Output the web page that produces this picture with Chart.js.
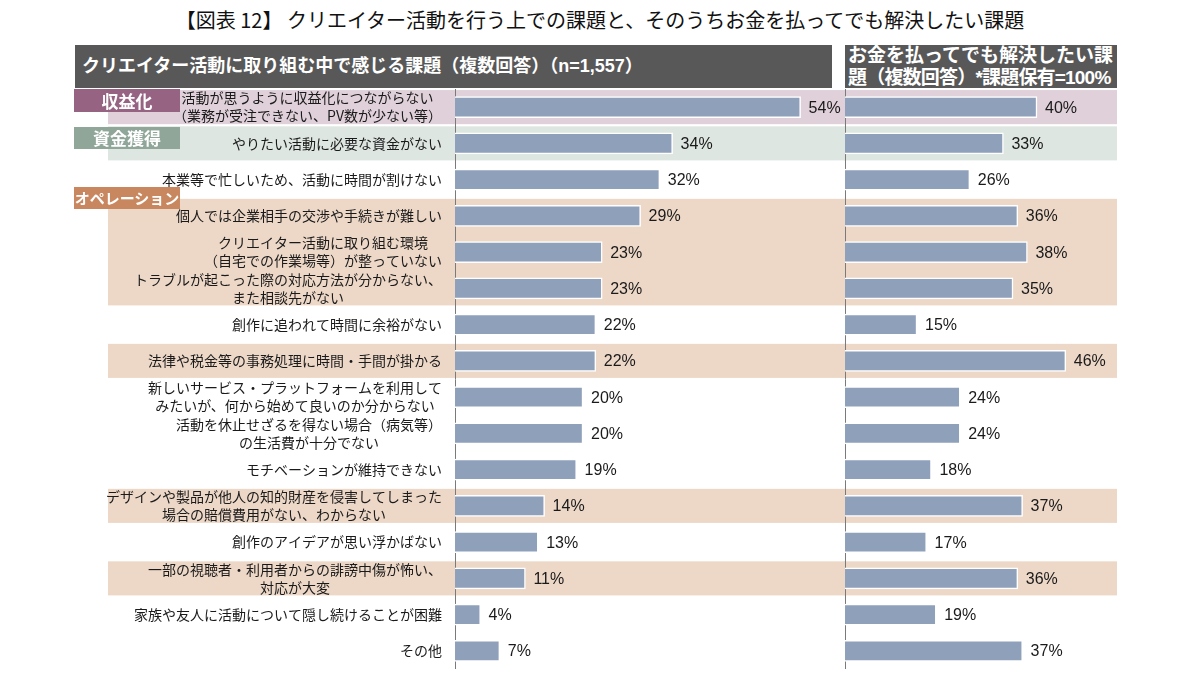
<!DOCTYPE html>
<html lang="ja">
<head>
<meta charset="utf-8">
<script src="https://cdn.jsdelivr.net/npm/chart.js@4.4.1/dist/chart.umd.min.js"></script>
<style>
  body { margin: 0; width: 1200px; height: 675px; background: #fff; position: relative; overflow: hidden;
         font-family: "Liberation Sans", "Noto Sans CJK JP", sans-serif; }
  .abs { position: absolute; }
  #title { left: 0; width: 1200px; top: 5px; text-align: center; font-size: 20px; color: #111;
           font-family: "Noto Sans CJK JP", sans-serif; }
  .head { background: #585858; color: #fff; font-weight: bold; top: 45px; height: 43px; }
  #headL { left: 75px; width: 757px; font-size: 18px; line-height: 43px; padding-left: 7px; box-sizing: border-box; }
  #headR { left: 845px; width: 272px; font-size: 19px; line-height: 22px; padding-left: 3px; box-sizing: border-box; white-space: nowrap; }
  #headR span { letter-spacing: -0.8px; }
  .tag { left: 74px; width: 106px; color: #fff; font-weight: bold; text-align: center;
         font-family: "Noto Sans CJK JP", sans-serif; }
  canvas { position: absolute; }
</style>
</head>
<body>
<div id="title" class="abs">【図表 12】 クリエイター活動を行う上での課題と、そのうちお金を払ってでも解決したい課題</div>
<div id="headL" class="abs head">クリエイター活動に取り組む中で感じる課題（複数回答）（n=1,557）</div>
<div id="headR" class="abs head">お金を払ってでも解決したい課<br><span>題（複数回答）*課題保有=100%</span></div>

<canvas id="left" width="845" height="580" style="left:0;top:89px"></canvas>
<canvas id="right" width="273" height="580" style="left:844px;top:89px"></canvas>

<div class="abs tag" style="top:89px;height:23px;line-height:23px;background:#966482;font-size:17px">収益化</div>
<div class="abs tag" style="top:127px;height:22px;line-height:22px;background:#8fa698;font-size:17px">資金獲得</div>
<div class="abs tag" style="top:187px;height:22px;line-height:22px;background:#c8875f;font-size:15px">オペレーション</div>

<script>
const categories = [
  ['活動が思うように収益化につながらない', '（業務が受注できない、PV数が少ない等）'],
  ['やりたい活動に必要な資金がない'],
  ['本業等で忙しいため、活動に時間が割けない'],
  ['個人では企業相手の交渉や手続きが難しい'],
  ['クリエイター活動に取り組む環境', '（自宅での作業場等）が整っていない'],
  ['トラブルが起こった際の対応方法が分からない、', 'また相談先がない'],
  ['創作に追われて時間に余裕がない'],
  ['法律や税金等の事務処理に時間・手間が掛かる'],
  ['新しいサービス・プラットフォームを利用して', 'みたいが、何から始めて良いのか分からない'],
  ['活動を休止せざるを得ない場合（病気等）', 'の生活費が十分でない'],
  ['モチベーションが維持できない'],
  ['デザインや製品が他人の知的財産を侵害してしまった', '場合の賠償費用がない、わからない'],
  ['創作のアイデアが思い浮かばない'],
  ['一部の視聴者・利用者からの誹謗中傷が怖い、', '対応が大変'],
  ['家族や友人に活動について隠し続けることが困難'],
  ['その他']
];
const feltIssues = [54, 34, 32, 29, 23, 23, 22, 22, 20, 20, 19, 14, 13, 11, 4, 7];
const payToSolve = [40, 33, 26, 36, 38, 35, 15, 46, 24, 24, 18, 37, 17, 36, 19, 37];
// which group band each row sits on
const rowGroups = ['revenue', 'funding', null, 'ops', 'ops', 'ops', null, 'ops',
                   null, null, null, 'ops', null, 'ops', null, null];

const bandColors = { revenue: '#dfd0d9', funding: '#dee6e1', ops: '#edd8c8' };
const barColor = '#8fa1ba';

// row background bands, merged when neighbours share a group
function bandPlugin(x0) {
  return {
    id: 'bands',
    beforeDraw(chart) {
      const ctx = chart.ctx, y = chart.scales.y;
      const step = y.getPixelForValue(1) - y.getPixelForValue(0);
      const half = step * 0.47;
      let i = 0;
      while (i < rowGroups.length) {
        const g = rowGroups[i];
        let j = i;
        while (g && j + 1 < rowGroups.length && rowGroups[j + 1] === g) j++;
        if (g) {
          const top = y.getPixelForValue(i) - half;
          const bottom = y.getPixelForValue(j) + half;
          ctx.fillStyle = bandColors[g];
          ctx.fillRect(x0, top, chart.width - x0, bottom - top);
        }
        i = j + 1;
      }
    }
  };
}

const valueLabels = {
  id: 'valueLabels',
  afterDatasetsDraw(chart) {
    const ctx = chart.ctx;
    ctx.save();
    ctx.font = '16px "Liberation Sans", Arial, sans-serif';
    ctx.fillStyle = '#1a1a1a';
    ctx.textAlign = 'left';
    ctx.textBaseline = 'middle';
    const data = chart.data.datasets[0].data;
    chart.getDatasetMeta(0).data.forEach((bar, i) => {
      ctx.fillText(data[i] + '%', bar.x + 8, bar.y + 1);
    });
    ctx.restore();
  }
};

// category labels: multi-line labels centred on each other, block right-aligned
const categoryLabels = {
  id: 'categoryLabels',
  afterDraw(chart) {
    const ctx = chart.ctx, y = chart.scales.y;
    const right = 442, lineH = 18;
    ctx.save();
    ctx.font = '14px "Noto Sans CJK JP", sans-serif';
    ctx.fillStyle = '#1a1a1a';
    ctx.textAlign = 'center';
    ctx.textBaseline = 'middle';
    categories.forEach((lines, i) => {
      const w = Math.max(...lines.map(l => ctx.measureText(l).width));
      const cx = right - w / 2;
      const cy = y.getPixelForValue(i);
      lines.forEach((l, k) => {
        ctx.fillText(l, cx, cy + (k - (lines.length - 1) / 2) * lineH);
      });
    });
    ctx.restore();
  }
};

function makeChart(id, values, yWidth, xMax, padRight, bandX, extra) {
  return new Chart(document.getElementById(id), {
    type: 'bar',
    data: {
      labels: categories.map(c => c.join('')),
      datasets: [{
        data: values,
        backgroundColor: barColor,
        borderColor: '#ffffff',
        borderWidth: 1.5,
        barThickness: 21
      }]
    },
    options: {
      indexAxis: 'y',
      responsive: false,
      animation: false,
      layout: { padding: { left: 0, right: padRight, top: 0, bottom: 0 } },
      plugins: { legend: { display: false }, tooltip: { enabled: false } },
      scales: {
        x: { display: false, min: 0, max: xMax },
        y: {
          display: true,
          grid: { display: false },
          ticks: { display: false },
          border: { display: true, color: '#7a7a7a', width: 1 },
          afterFit: (scale) => { scale.width = yWidth; }
        }
      }
    },
    plugins: [bandPlugin(bandX), valueLabels].concat(extra)
  });
}

makeChart('left', feltIssues, 455, 60, 6, 108, [categoryLabels]);
makeChart('right', payToSolve, 1, 50, 32, 0, []);
</script>
</body>
</html>
